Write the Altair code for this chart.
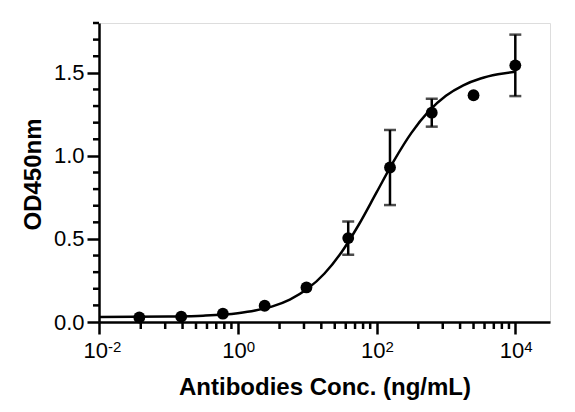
import altair as alt
import pandas as pd

# Measured points (mean OD450 and SD) at 4-fold dilutions
conc = [0.0381, 0.153, 0.610, 2.44, 9.77, 39.06, 156.25, 625, 2500, 10000]
od_mean = [0.027, 0.032, 0.050, 0.098, 0.208, 0.505, 0.930, 1.260, 1.365, 1.545]
od_sd = [0.0, 0.0, 0.0, 0.0, 0.0, 0.100, 0.226, 0.084, 0.0, 0.185]

# Fitted curve at log10(conc) positions
curve_log = [-2.0, -1.5, -1.0, -0.5, 0.0, 0.25, 0.5, 0.75, 1.0, 1.25, 1.5, 1.75,
             2.0, 2.25, 2.5, 2.75, 3.0, 3.25, 3.5, 3.75, 4.0]
curve_od = [0.030, 0.031, 0.033, 0.038, 0.053, 0.069, 0.094, 0.135, 0.198, 0.292,
            0.423, 0.590, 0.780, 0.970, 1.137, 1.268, 1.362, 1.425, 1.466, 1.491, 1.507]

# Axis ticks
x_major = [0.01, 1, 100, 10000]
x_exp = ["-2", "0", "2", "4"]
x_minor = [0.04, 0.09, 0.16, 0.25, 0.36, 0.49, 0.64, 0.81,
           4, 9, 16, 25, 36, 49, 64, 81,
           400, 900, 1600, 2500, 3600, 4900, 6400, 8100]
y_major = [0.0, 0.5, 1.0, 1.5]
y_minor = [0.1, 0.2, 0.3, 0.4, 0.6, 0.7, 0.8, 0.9, 1.1, 1.2, 1.3, 1.4, 1.6, 1.7, 1.8]

W, H = 451, 299
FONT = "Liberation Sans"

pts = pd.DataFrame({"x": conc, "y": od_mean, "sd": od_sd})
pts["lo"] = pts["y"] - pts["sd"]
pts["hi"] = pts["y"] + pts["sd"]
curve = pd.DataFrame({"x": [10 ** v for v in curve_log], "y": curve_od})

xs = alt.Scale(type="log", domain=[0.01, 31622.78], nice=False)
ys = alt.Scale(domain=[0, 1.8], nice=False)

x_axis = alt.Axis(values=x_major, labels=False, grid=False, tickSize=12, tickWidth=2.5,
                  domainWidth=2.5, domainColor="black", tickColor="black",
                  title="Antibodies Conc. (ng/mL)", titleFont=FONT, titleFontSize=24,
                  titleFontWeight="bold", titleColor="black", titleBaseline="alphabetic",
                  titleY=72)
y_axis = alt.Axis(values=y_major, format=".1f", grid=False, tickSize=12, tickWidth=2.5,
                  domainWidth=2.5, domainColor="black", tickColor="black",
                  labelFont=FONT, labelFontSize=22, labelColor="black", labelPadding=3,
                  title="OD450nm", titleFont=FONT, titleFontSize=24, titleFontWeight="bold",
                  titleColor="black", titleBaseline="alphabetic", titleX=-59, titleY=151)

line = alt.Chart(curve).mark_line(color="black", strokeWidth=2.5, interpolate="monotone").encode(
    x=alt.X("x:Q", scale=xs, axis=x_axis),
    y=alt.Y("y:Q", scale=ys, axis=y_axis),
)

err_df = alt.Chart(pts).transform_filter("datum.sd > 0")
err_rule = err_df.mark_rule(color="black", strokeWidth=2.5).encode(
    x=alt.X("x:Q", scale=xs), y=alt.Y("lo:Q", scale=ys), y2="hi:Q")
cap_lo = err_df.mark_tick(color="black", thickness=2.5, size=12, orient="horizontal").encode(
    x=alt.X("x:Q", scale=xs), y=alt.Y("lo:Q", scale=ys))
cap_hi = err_df.mark_tick(color="black", thickness=2.5, size=12, orient="horizontal").encode(
    x=alt.X("x:Q", scale=xs), y=alt.Y("hi:Q", scale=ys))

dots = alt.Chart(pts).mark_circle(color="black", size=140, opacity=1).encode(
    x=alt.X("x:Q", scale=xs), y=alt.Y("y:Q", scale=ys))

xminor = alt.Chart(pd.DataFrame({"x": x_minor})).mark_rule(color="black", strokeWidth=2.5).encode(
    x=alt.X("x:Q", scale=xs), y=alt.value(H), y2=alt.value(H + 7))
yminor = alt.Chart(pd.DataFrame({"y": y_minor})).mark_rule(color="black", strokeWidth=2.5).encode(
    y=alt.Y("y:Q", scale=ys), x=alt.value(-6), x2=alt.value(0))

lab_df = pd.DataFrame({"x": x_major, "e": x_exp})
lab10 = alt.Chart(lab_df).mark_text(font=FONT, fontSize=22, color="black", align="right",
                                    baseline="alphabetic", dx=9).encode(
    x=alt.X("x:Q", scale=xs), y=alt.value(H + 36), text=alt.value("10"))
labexp = alt.Chart(lab_df).mark_text(font=FONT, fontSize=15, color="black", align="left",
                                     baseline="alphabetic", dx=9).encode(
    x=alt.X("x:Q", scale=xs), y=alt.value(H + 30), text="e:N")

chart = alt.layer(line, xminor, yminor, err_rule, cap_lo, cap_hi, dots, lab10, labexp).properties(
    width=W, height=H,
    autosize=alt.AutoSizeParams(type="none"),
    padding={"left": 91, "top": 15, "right": 17, "bottom": 82},
).configure_view(stroke=None).configure(background="white")

chart.save("out.html", embed_options={"renderer": "svg", "actions": False})
